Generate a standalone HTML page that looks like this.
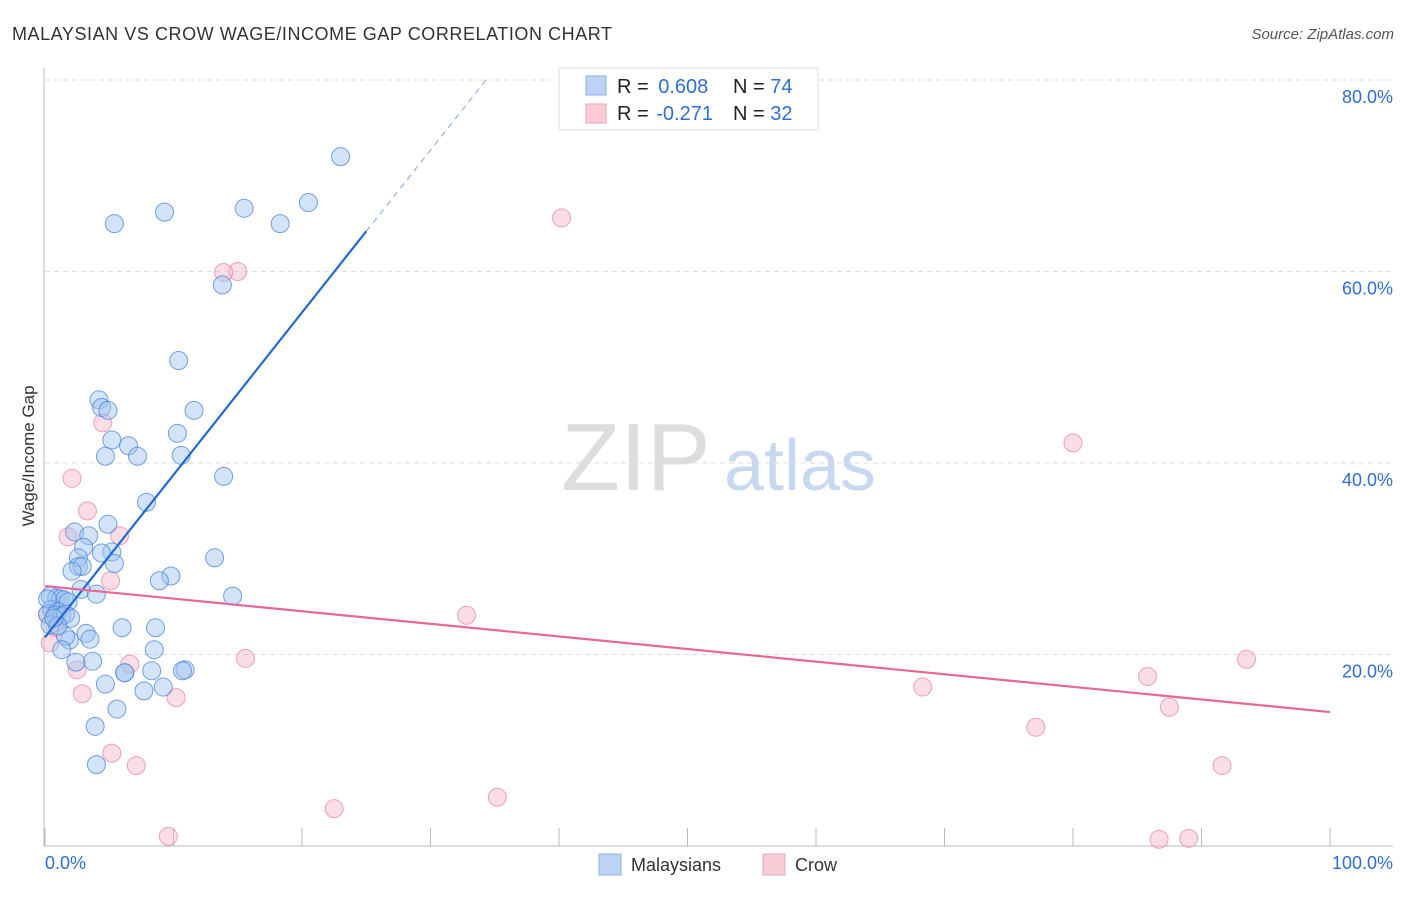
<!DOCTYPE html>
<html><head><meta charset="utf-8"><style>
body{margin:0;background:#fff;font-family:"Liberation Sans",sans-serif}
svg text{font-family:"Liberation Sans",sans-serif}
</style></head><body>
<svg id="c" width="1406" height="892">
<text x="12" y="40" font-size="18" fill="#333" textLength="600" lengthAdjust="spacing">MALAYSIAN VS CROW WAGE/INCOME GAP CORRELATION CHART</text>
<text x="1394" y="39" font-size="15" fill="#555" text-anchor="end" font-style="italic">Source: ZipAtlas.com</text>
<text x="636" y="490" font-size="96" fill="#ddd" font-family="Liberation Serif" text-anchor="middle">ZIP</text>
<text x="800" y="490" font-size="72" fill="#c8d8ef" text-anchor="middle">atlas</text>
<text transform="translate(34,456) rotate(-90)" font-size="17" fill="#333" text-anchor="middle">Wage/Income Gap</text>
<g id="grid"></g><g id="pts"></g><g id="lines"></g>
<g>
<rect x="559" y="68" width="259" height="62" fill="#fff" stroke="#ddd"/>
<rect x="586" y="76" width="20" height="19" fill="#bcd3f5" stroke="#8ab0e8"/>
<rect x="586" y="104" width="20" height="19" fill="#f9ccd8" stroke="#eea4b8"/>
<text x="617" y="93" font-size="20" fill="#222">R = <tspan fill="#2e6fd6" dx="4">0.608</tspan></text>
<text x="733" y="93" font-size="20" fill="#222">N = <tspan fill="#2e6fd6">74</tspan></text>
<text x="617" y="120" font-size="20" fill="#222">R = <tspan fill="#2e6fd6" dx="2">-0.271</tspan></text>
<text x="733" y="120" font-size="20" fill="#222">N = <tspan fill="#2e6fd6">32</tspan></text>
</g>
<g>
<rect x="599" y="854" width="22" height="21" fill="#bcd3f5" stroke="#8ab0e8"/>
<text x="631" y="871" font-size="18" fill="#333">Malaysians</text>
<rect x="763" y="854" width="22" height="21" fill="#f9ccd8" stroke="#eea4b8"/>
<text x="795" y="871" font-size="18" fill="#333">Crow</text>
</g>
</svg>
<script>
const yTicks=[20,40,60,80];
const xTickLabels=["0.0%","100.0%"];
const blueX=[23,20.5,15.5,9.3,5.4,18.3,13.8,10.4,4.2,4.4,4.9,11.6,10.3,5.2,6.5,4.7,7.2,10.6,13.9,7.9,4.9,2.3,3.4,3,5.2,4.4,2.6,2.6,2.9,5.4,13.2,2.1,9.8,8.9,2.8,4.0,14.6,0.4,0.9,1.2,1.5,1.8,0.5,1.0,0.2,0.8,1.3,1.6,2.0,0.4,6.0,8.6,3.2,3.5,1.9,1.6,1.3,8.5,3.7,2.4,4.7,8.3,6.2,10.9,10.7,7.7,9.2,5.6,3.9,4.0,6.2,1.0,0.7,0.2];
const blueY=[72,67.2,66.6,66.2,65,65,58.6,50.7,46.6,45.8,45.5,45.5,43.1,42.4,41.8,40.7,40.7,40.8,38.6,35.9,33.6,32.8,32.4,31.2,30.7,30.6,30.1,29.2,29.2,29.5,30.1,28.7,28.2,27.7,26.8,26.3,26.1,26.1,25.9,25.8,25.7,25.5,24.7,24.5,24.2,24.1,24,24.2,23.8,23.1,22.8,22.8,22.2,21.6,21.5,21.9,20.5,20.5,19.3,19.2,16.9,18.3,18.1,18.4,18.3,16.2,16.6,14.3,12.5,8.5,18.1,23,23.8,25.8];
const crowX=[40.2,15.0,13.9,80,4.5,2.1,3.3,1.8,5.8,5.1,32.8,0.2,0.8,0.4,15.6,6.6,2.5,2.9,10.2,68.3,85.8,93.5,87.5,77.1,5.2,7.1,91.6,22.5,35.2,9.6,86.7,89.0];
const crowY=[65.6,60,59.9,42.1,44.2,38.4,35,32.3,32.4,27.7,24.1,24.2,22.8,21.2,19.6,19.0,18.4,15.9,15.5,16.6,17.7,19.5,14.5,12.4,9.7,8.4,8.4,3.9,5.1,1.0,0.7,0.8];
const blueFit=[21.8,1.696], blueSolidEnd=25, blueDashEnd=34.4;
const crowFit=[27.15,-0.1316];
const X=v=>45+v*12.85, Y=v=>846-v*9.575;
const NS="http://www.w3.org/2000/svg";
function mk(p,t,a){const e=document.createElementNS(NS,t);for(const k in a)e.setAttribute(k,a[k]);p.appendChild(e);return e;}
const grid=document.getElementById('grid');
let e=mk(grid,'line',{x1:44,y1:68,x2:44,y2:846,stroke:'#bbb'});


e=mk(grid,'line',{x1:44,y1:846,x2:1393,y2:846,stroke:'#bbb'});


for(let i=0;i<=10;i++){e=mk(grid,'line',{x1:X(i*10),x2:X(i*10),y1:828,y2:846,stroke:'#bbb'});

}
yTicks.forEach(t=>{e=mk(grid,'line',{x1:45,x2:1393,y1:Y(t),y2:Y(t),stroke:'#ddd','stroke-dasharray':'5,4'});


e=mk(grid,'text',{x:1393,y:Y(t)+23,'font-size':18,fill:'#2e6fd6','text-anchor':'end'});e.textContent=t.toFixed(1)+'%';

});
e=mk(grid,'text',{x:45,y:869,'font-size':18,fill:'#2e6fd6'});e.textContent=xTickLabels[0];


e=mk(grid,'text',{x:1393,y:869,'font-size':18,fill:'#2e6fd6','text-anchor':'end'});e.textContent=xTickLabels[1];


const pts=document.getElementById('pts');
crowX.forEach((x,i)=>{e=mk(pts,'circle',{cx:X(x),cy:Y(crowY[i]),r:9,fill:'rgba(246,180,200,0.45)',stroke:'rgba(232,140,170,0.8)'});

});
blueX.forEach((x,i)=>{e=mk(pts,'circle',{cx:X(x),cy:Y(blueY[i]),r:9,fill:'rgba(160,195,240,0.45)',stroke:'rgba(70,130,220,0.75)'});

});
const L=document.getElementById('lines');
const bf=x=>blueFit[0]+blueFit[1]*x, cf=x=>crowFit[0]+crowFit[1]*x;
e=mk(L,'line',{x1:X(0),y1:Y(bf(0)),x2:X(blueSolidEnd),y2:Y(bf(blueSolidEnd)),stroke:'#2168d8','stroke-width':2.2});


e=mk(L,'line',{x1:X(blueSolidEnd),y1:Y(bf(blueSolidEnd)),x2:X(blueDashEnd),y2:Y(bf(blueDashEnd)),stroke:'#8fb3e8','stroke-width':1.2,'stroke-dasharray':'6,5'});


e=mk(L,'line',{x1:X(0),y1:Y(cf(0)),x2:X(100),y2:Y(cf(100)),stroke:'#e7679a','stroke-width':2.2});


</script>
</body></html>
